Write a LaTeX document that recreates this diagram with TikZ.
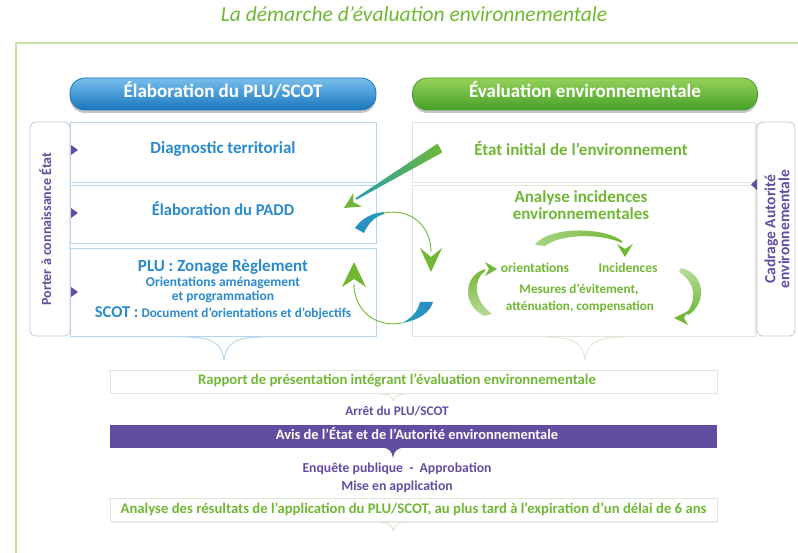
\documentclass[tikz,border=0pt]{standalone}
\usepackage{fontspec}
\setmainfont{Carlito}
\usetikzlibrary{shadows}
\definecolor{vert}{RGB}{112,184,52}
\definecolor{vertclair}{RGB}{196,228,170}
\definecolor{verthaut}{RGB}{150,210,90}
\definecolor{vertbas}{RGB}{70,160,40}
\definecolor{bleu}{RGB}{42,138,204}
\definecolor{bleubord}{RGB}{178,212,236}
\definecolor{bleuhaut}{RGB}{120,190,235}
\definecolor{bleubas}{RGB}{25,118,190}
\definecolor{sarcelle}{RGB}{38,160,175}
\definecolor{violet}{RGB}{98,78,160}
\definecolor{grisviolet}{RGB}{200,198,215}
\definecolor{grisvert}{RGB}{222,230,215}
\begin{document}
\begin{tikzpicture}[x=1pt, y=-1pt, line join=round, line cap=round,
    every node/.style={inner sep=0pt},
    ligne/.style={text height=0.8em, text depth=0.16em},
    taille/.style={font=\bfseries\fontsize{#1}{#1}\selectfont, ligne},
    pill/.style={rounded corners=15pt, minimum width=306pt, minimum height=32pt, text=white,
      taille=19, line width=0.8pt,
      drop shadow={shadow xshift=0pt, shadow yshift=-3pt, opacity=0.45}},
    cadre/.style={draw=#1, fill=white, line width=0.9pt,
      drop shadow={shadow xshift=1pt, shadow yshift=-1pt, opacity=0.12}},
    onglet/.style={draw=grisviolet, fill=white, rounded corners=6pt, line width=0.8pt}]
  \useasboundingbox (0,0) rectangle (798,553);
  \node[font=\itshape\fontsize{21.5}{24}\selectfont, text=vert, ligne] (titre) at (414,18) {La démarche d’évaluation environnementale};
  \draw[vertclair, line width=1.2pt] (16,553) -- (16,43) -- (798,43);
  % en-tetes
  \node[pill, top color=bleuhaut, bottom color=bleubas, draw=bleubas] (elab) at (223,94) {Élaboration du PLU/SCOT};
  \node[pill, minimum width=345pt, top color=verthaut, bottom color=vertbas, draw=vertbas] (evalu) at (585,94) {Évaluation environnementale};
  % onglets lateraux
  \node[onglet, minimum width=40pt, minimum height=214pt] (ongletg) at (50,229) {};
  \node[rotate=90, taille=14, text=violet] (porter) at (48,229) {Porter à connaissance État};
  \node[onglet, minimum width=38pt, minimum height=214pt] (ongletd) at (776,229) {};
  \node[rotate=90, align=center, font=\bfseries\fontsize{15.5}{14}\selectfont, text=violet] (cadrage) at (777,229) {Cadrage Autorité\\environnementale};
  % colonne PLU/SCOT
  \node[cadre=bleubord, minimum width=306pt, minimum height=60pt] (diag) at (223,152) {};
  \node[cadre=bleubord, minimum width=306pt, minimum height=58pt] (padd) at (223,214) {};
  \node[cadre=bleubord, minimum width=306pt, minimum height=88pt] (plu) at (223,292) {};
  \node[taille=17, text=bleu] at (223,150) {Diagnostic territorial};
  \node[taille=16.5, text=bleu] at (223,212) {Élaboration du PADD};
  \node[taille=17, text=bleu] (zonage) at (223,268) {PLU : Zonage Règlement};
  \node[taille=13.5, text=bleu] (orient) at (223,283) {Orientations aménagement};
  \node[taille=13.5, text=bleu] (progr) at (223,297) {et programmation};
  \node[taille=13.2, text=bleu] (scot) at (223,314) {{\fontsize{16.5}{16}\selectfont SCOT :} Document d’orientations et d’objectifs};
  % colonne evaluation
  \node[cadre=grisvert, minimum width=343pt, minimum height=60pt] (etat) at (584,152) {};
  \node[cadre=grisvert, minimum width=343pt, minimum height=151pt] (incid) at (584,260.5) {};
  \node[taille=17, text=vert] at (581,152) {État initial de l’environnement};
  \node[align=center, font=\bfseries\fontsize{17}{17}\selectfont, text=vert] (analyse) at (581,205.5) {Analyse incidences\\environnementales};
  \node[taille=13.5, text=vert] (orienta) at (535,269) {orientations};
  \node[taille=13.5, text=vert] (incidences) at (628,269) {Incidences};
  \node[taille=13.2, text=vert] at (579,290) {Mesures d’évitement,};
  \node[taille=13.2, text=vert] at (580,307) {atténuation, compensation};
  % reperes violets
  \foreach \y in {150,213,292}
    \fill[violet] (71,\y-5) -- (78,\y) -- (71,\y+5) -- cycle;
  \fill[violet] (757,179) -- (751,184.5) -- (757,190) -- cycle;
  % fleches centrales
  \shade[left color=sarcelle, right color=vert] (442.6,152.3) -- (437.4,143.7) -- (355.5,198.2) -- (356.5,199.8) -- cycle;
  \fill[vert] (344,208) -- (353.4,192.9) -- (353.4,202.3) -- (361.8,206.5) -- cycle;
  \shade[left color=bleu, right color=sarcelle] (355,228) .. controls (362,218) and (372,213) .. (384,212)
    -- (384,214) .. controls (374,217) and (368,224) .. (364,233) -- cycle;
  \draw[vert, line width=0.9pt] (384,213) .. controls (410,208) and (431,225) .. (431,252);
  \fill[vert] (431,272) -- (420,248) -- (431,257) -- (442,248) -- cycle;
  \shade[left color=sarcelle, right color=bleu] (420,302) -- (433,302) .. controls (430,312) and (420,320) .. (402,323)
    .. controls (412,318) and (418,311) .. (420,302) -- cycle;
  \draw[vert, line width=0.9pt] (402,323) .. controls (375,328) and (354,310) .. (354,284);
  \fill[vert] (354,262) -- (342,287) -- (354,279) -- (366,287) -- cycle;
  % cycle des incidences
  \shade[left color=vert!60, right color=vert] (535,245) .. controls (545,228) and (600,225) .. (622,241)
    -- (622,243) .. controls (600,233) and (560,234) .. (545,246) -- cycle;
  \fill[vert] (625,257) -- (617,244) -- (625,249) -- (633,244) -- cycle;
  \shade[top color=vert, bottom color=vert!50] (484,316) .. controls (462,305) and (463,276) .. (485,269)
    -- (485,271) .. controls (473,280) and (473,300) .. (492,314) -- cycle;
  \fill[vert] (497,269) -- (485,262) -- (489,269) -- (485,276) -- cycle;
  \shade[top color=vert!50, bottom color=vert] (681,268) .. controls (707,274) and (706,305) .. (688,315)
    -- (686,313) .. controls (697,302) and (696,282) .. (679,272) -- cycle;
  \fill[vert] (674,318) -- (688,311) -- (684,318) -- (688,325) -- cycle;
  % accolades
  \draw[bleubord, line width=0.9pt] (185,337) .. controls (215,337) and (222,345) .. (224,360)
    .. controls (226,345) and (233,337) .. (262,337);
  \draw[grisvert, line width=0.9pt] (546,337) .. controls (576,337) and (583,345) .. (585,360)
    .. controls (587,345) and (594,337) .. (624,337);
  % suite de la procedure
  \node[cadre=grisvert, minimum width=607pt, minimum height=23pt] (rapport) at (413.5,381.5) {};
  \node[taille=14.7, text=vert] at (397,381) {Rapport de présentation intégrant l’évaluation environnementale};
  \draw[grisvert, line width=0.9pt] (380,394) .. controls (390,394) and (392,397) .. (393,401)
    .. controls (394,397) and (396,394) .. (406,394);
  \node[taille=13.2, text=violet] (arret) at (397,412) {Arrêt du PLU/SCOT};
  \node[fill=violet, minimum width=607pt, minimum height=23pt] (avisbar) at (413.5,436.5) {};
  \node[taille=14.4, text=white] (avis) at (417,436) {Avis de l’État et de l’Autorité environnementale};
  \fill[violet] (381,447.5) .. controls (390,448) and (392,452) .. (393,458) .. controls (394,452) and (396,448) .. (405,447.5) -- cycle;
  \node[taille=13.7, text=violet] (enquete) at (397,469) {Enquête publique \ - \ Approbation};
  \node[taille=13.7, text=violet] (mise) at (397,487) {Mise en application};
  \node[cadre=grisvert, minimum width=607pt, minimum height=23pt] (bilan) at (413.5,510) {};
  \node[taille=14.7, text=vert] at (413.5,510) {Analyse des résultats de l’application du PLU/SCOT, au plus tard à l’expiration d’un délai de 6 ans};
  \draw[grisvert, line width=0.9pt] (380,522.5) .. controls (390,522.5) and (392,526) .. (393,531)
    .. controls (394,526) and (396,522.5) .. (406,522.5);
\end{tikzpicture}
\end{document}
